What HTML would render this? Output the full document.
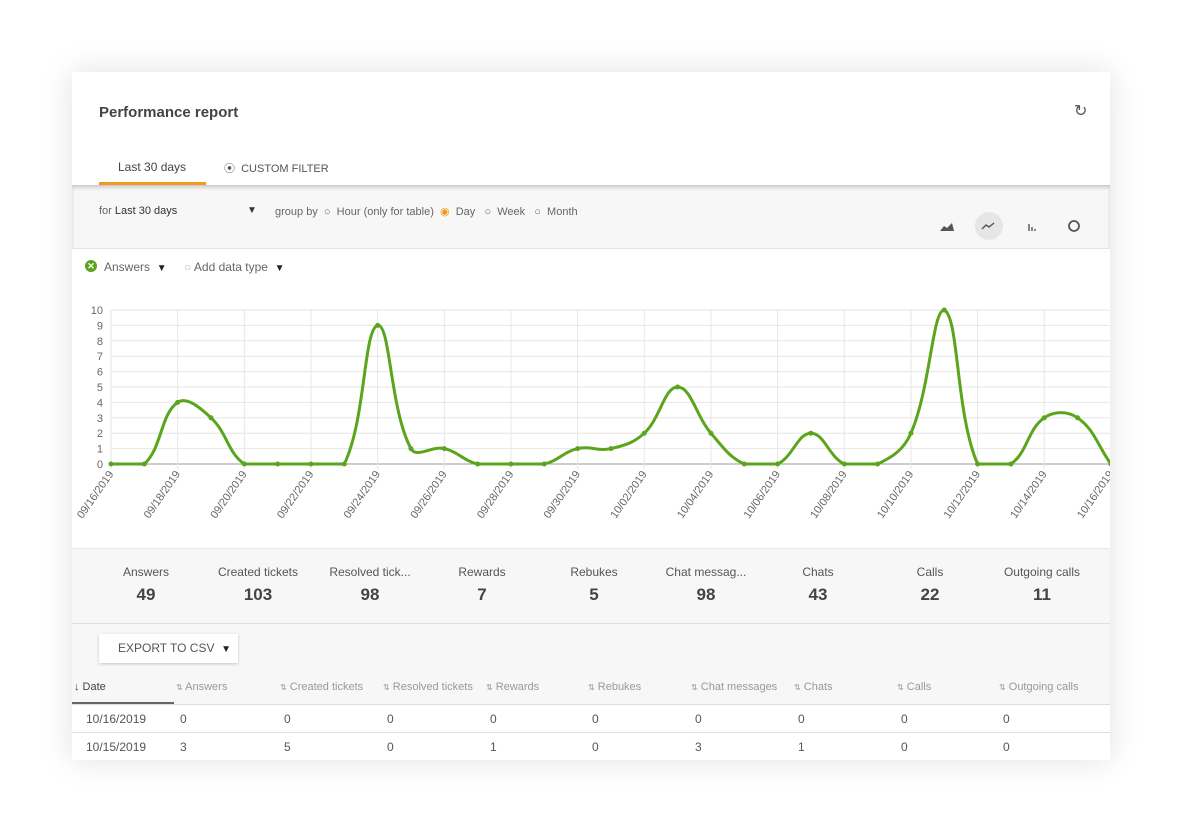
<!DOCTYPE html>
<html><head><meta charset="utf-8"><style>
body{margin:0;width:1182px;height:832px;background:#fff;font-family:"Liberation Sans",sans-serif;position:relative;overflow:hidden}
.card{position:absolute;left:72px;top:72px;width:1038px;height:688px;background:#fff;box-shadow:0 0 30px rgba(0,0,0,0.12);overflow:hidden}
.a{position:absolute;white-space:nowrap}
.g{color:#666;font-size:12px}
</style></head><body>
<div class="card">
 <div class="a" style="left:27px;top:32px;font-size:15px;color:#444;font-weight:bold">Performance report</div>
 <div class="a" style="left:1002px;top:29px;font-size:16px;color:#555">&#x21bb;</div>
 <div class="a" style="left:46px;top:88px;font-size:12px;color:#444">Last 30 days</div>
 <div class="a" style="left:27px;top:110px;width:107px;height:3px;background:#f39a1e"></div>
 <div class="a" style="left:152px;top:88px;font-size:11px;color:#555">&#x29BF;&nbsp; CUSTOM FILTER</div>
 <div class="a" style="left:0;top:113px;width:1038px;height:62px;background:#f7f7f7;border-top:1px solid #ccc;box-shadow:inset 0 2px 3px rgba(0,0,0,0.15);border-bottom:1px solid #e3e3e3"></div>
 <div class="a g" style="left:27px;top:133px;font-size:11px">for <span style="color:#333">Last 30 days</span></div>
 <div class="a" style="left:175px;top:133px;font-size:10px;color:#333">&#9660;</div>
 <div class="a g" style="left:203px;top:133px;font-size:11px">group by &nbsp;&#9675;&nbsp; Hour (only for table) &nbsp;<span style="color:#f39a1e">&#9673;</span>&nbsp; Day &nbsp;&nbsp;&#9675;&nbsp; Week &nbsp;&nbsp;&#9675;&nbsp; Month</div>
 <div class="a" style="left:903px;top:140px;width:28px;height:28px;border-radius:50%;background:#e6e6e6"></div>
 <svg class="a" style="left:860px;top:145px" width="150" height="20">
  <path d="M8 14 L12 9 L15 11 L20 6 L22 14 Z" fill="#555"/>
  <path d="M50 12 L54 8 L57 10 L62 6" stroke="#555" stroke-width="1.4" fill="none"/>
  <path d="M97 7 V14 M100 10 V14 M103 12 V14" stroke="#555" stroke-width="1.4"/>
  <circle cx="142" cy="9" r="5" stroke="#555" stroke-width="1.8" fill="none"/>
 </svg>
 <div class="a" style="left:13px;top:188px;width:12px;height:12px;border-radius:50%;background:#5aa51c;color:#fff;font-size:9px;text-align:center;line-height:12px;font-weight:bold">&#x2715;</div>
 <div class="a g" style="left:32px;top:188px">Answers &nbsp;<span style="color:#222;font-size:10px">&#9660;</span></div>
 <div class="a g" style="left:112px;top:188px"><span style="color:#bbb">&#9675;</span> Add data type &nbsp;<span style="color:#222;font-size:10px">&#9660;</span></div>
 <svg id="ch" class="a" style="left:0;top:220px" width="1038" height="260"></svg>
 <div class="a" style="left:0;top:476px;width:1038px;height:212px;background:#f7f7f7;border-top:1px solid #e8e8e8"></div>
 <div id="st"></div>
 <div class="a" style="left:0;top:551px;width:1038px;height:1px;background:#e0e0e0"></div>
 <div class="a" style="left:27px;top:562px;width:139px;height:29px;background:#fff;box-shadow:0 1px 3px rgba(0,0,0,0.2)"></div>
 <div class="a" style="left:46px;top:569px;font-size:12px;color:#555">EXPORT TO CSV &nbsp;<span style="color:#222;font-size:10px">&#9660;</span></div>
 <div class="a" style="left:0;top:632px;width:1038px;height:56px;background:#fff"></div>
 <div class="a" style="left:0;top:632px;width:1038px;height:1px;background:#ddd"></div>
 <div class="a" style="left:0;top:660px;width:1038px;height:1px;background:#ddd"></div>
 <div class="a" style="left:0;top:630px;width:102px;height:2px;background:#666"></div>
 <div id="tb"></div>
</div>
<script>
var d=[0,0,4,3,0,0,0,0,9,1,1,0,0,0,1,1,2,5,2,0,0,2,0,0,2,10,0,0,3,3,0];
var s='';var X=i=>39+i*33.33;
var Y=v=>172-v*15.4;
for(var v=0;v<=10;v++){s+='<line x1="39" x2="1038" y1="'+Y(v)+'" y2="'+Y(v)+'" stroke="'+(v?'#e6e6e6':'#999')+'"/>';s+='<text x="31" y="'+(Y(v)+4)+'" font-size="11" fill="#666" text-anchor="end">'+v+'</text>';}
var lab=['09/16/2019','09/18/2019','09/20/2019','09/22/2019','09/24/2019','09/26/2019','09/28/2019','09/30/2019','10/02/2019','10/04/2019','10/06/2019','10/08/2019','10/10/2019','10/12/2019','10/14/2019','10/16/2019'];
for(var i=0;i<=30;i+=2){s+='<line x1="'+X(i)+'" x2="'+X(i)+'" y1="'+Y(10)+'" y2="'+(Y(0)+5)+'" stroke="#e6e6e6"/>';s+='<text transform="translate('+(X(i)+3)+','+(Y(0)+10)+') rotate(-55)" font-size="11" fill="#666" text-anchor="end">'+lab[i/2]+'</text>';}
var p=d.map((v,i)=>[X(i),Y(v)]),t=0.4,c=[];
var cl=y=>Math.min(Y(0),Math.max(Y(10),y));
for(i=0;i<p.length;i++){var a=p[i-1]||p[i],b=p[i],n=p[i+1]||p[i];var d1=Math.hypot(b[0]-a[0],b[1]-a[1]),d2=Math.hypot(n[0]-b[0],n[1]-b[1]);var fa=d1+d2?t*d1/(d1+d2):0,fb=d1+d2?t*d2/(d1+d2):0;c.push([[b[0]-fa*(n[0]-a[0]),cl(b[1]-fa*(n[1]-a[1]))],[b[0]+fb*(n[0]-a[0]),cl(b[1]+fb*(n[1]-a[1]))]]);}
var path='M'+p[0];for(i=1;i<p.length;i++)path+=' C'+c[i-1][1]+' '+c[i][0]+' '+p[i];
s+='<path d="'+path+'" fill="none" stroke="#5aa51c" stroke-width="3"/>';
p.forEach(q=>s+='<circle cx="'+q[0]+'" cy="'+q[1]+'" r="2.5" fill="#5aa51c"/>');
document.getElementById('ch').innerHTML=s;
var st=[['Answers',49],['Created tickets',103],['Resolved tick...',98],['Rewards',7],['Rebukes',5],['Chat messag...',98],['Chats',43],['Calls',22],['Outgoing calls',11]],h='';
st.forEach((q,i)=>{var x=74+i*112;h+='<div class="a" style="left:'+(x-60)+'px;width:120px;text-align:center;top:493px;font-size:12px;color:#555">'+q[0]+'</div><div class="a" style="left:'+(x-60)+'px;width:120px;text-align:center;top:513px;font-size:17px;font-weight:bold;color:#444">'+q[1]+'</div>';});
document.getElementById('st').innerHTML=h;
var hd=['Date','Answers','Created tickets','Resolved tickets','Rewards','Rebukes','Chat messages','Chats','Calls','Outgoing calls'],xs=[2,104,208,311,414,516,619,722,825,927];
var r1=['10/16/2019',0,0,0,0,0,0,0,0,0],r2=['10/15/2019',3,5,0,1,0,3,1,0,0];h='';
hd.forEach((q,i)=>{h+='<div class="a" style="left:'+xs[i]+'px;top:609px;font-size:11px;color:'+(i?'#999':'#444')+'">'+(i?'<span style="font-size:8px">&#8645;</span> ':'&#8595; ')+q+'</div>';
var x=i?xs[i]+4:14;h+='<div class="a" style="left:'+x+'px;top:640px;font-size:12px;color:#555">'+r1[i]+'</div><div class="a" style="left:'+x+'px;top:668px;font-size:12px;color:#555">'+r2[i]+'</div>';});
document.getElementById('tb').innerHTML=h;
</script>
</body></html>
